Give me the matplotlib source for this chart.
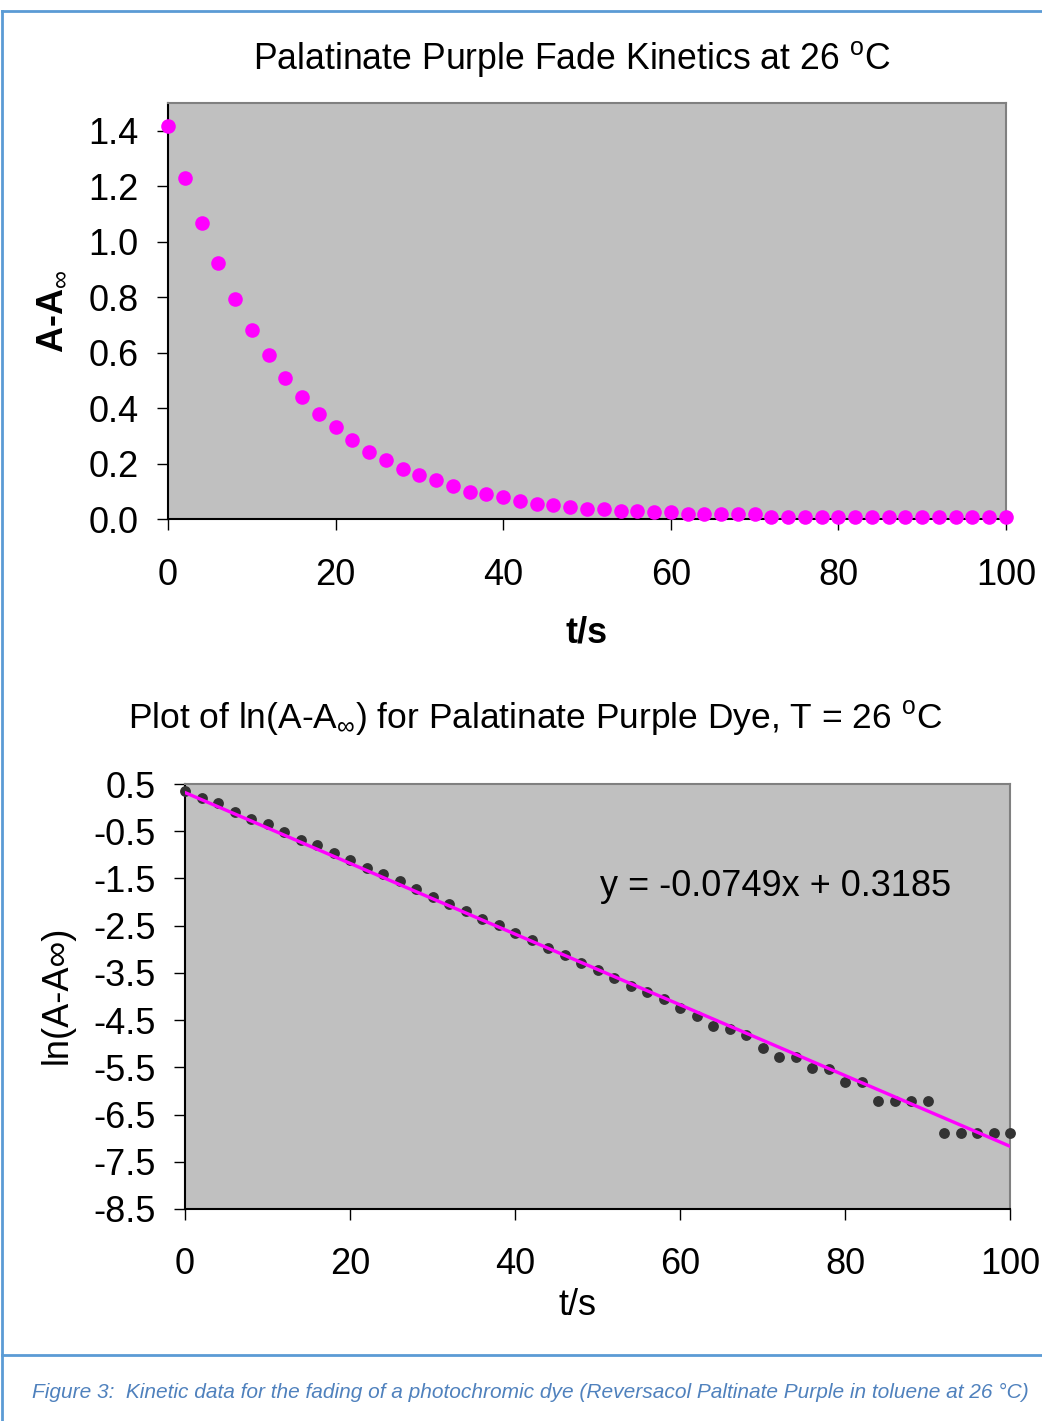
import matplotlib.pyplot as plt
from matplotlib.lines import Line2D

# =========================================================
# FONTS
# =========================================================

plt.rcParams['font.family'] = ['Liberation Sans', 'DejaVu Sans']
plt.rcParams['mathtext.fontset'] = 'custom'
plt.rcParams['mathtext.rm'] = 'Liberation Sans'
plt.rcParams['mathtext.it'] = 'Liberation Sans:italic'
plt.rcParams['mathtext.bf'] = 'Liberation Sans:bold'

# =========================================================
# DATA
# =========================================================

time_s = [0, 2, 4, 6, 8, 10, 12, 14, 16, 18, 20, 22, 24, 26, 28, 30, 32, 34,
          36, 38, 40, 42, 44, 46, 48, 50, 52, 54, 56, 58, 60, 62, 64, 66, 68,
          70, 72, 74, 76, 78, 80, 82, 84, 86, 88, 90, 92, 94, 96, 98, 100]

# absorbance change A - A_inf
delta_abs = [1.417, 1.231, 1.066, 0.923, 0.792, 0.682, 0.592, 0.510, 0.441,
             0.379, 0.331, 0.284, 0.242, 0.214, 0.181, 0.159, 0.139, 0.118,
             0.097, 0.090, 0.078, 0.064, 0.055, 0.049, 0.043, 0.036, 0.036,
             0.030, 0.030, 0.024, 0.024, 0.017, 0.017, 0.017, 0.017, 0.017,
             0.009, 0.009, 0.009, 0.009, 0.009, 0.009, 0.009, 0.009, 0.009,
             0.009, 0.009, 0.009, 0.009, 0.009, 0.009]

# ln(A - A_inf)
ln_delta_abs = [0.358, 0.210, 0.091, -0.087, -0.248, -0.347, -0.517, -0.686,
                -0.799, -0.955, -1.110, -1.286, -1.407, -1.555, -1.725, -1.888,
                -2.049, -2.197, -2.366, -2.487, -2.650, -2.805, -2.968, -3.123,
                -3.286, -3.441, -3.617, -3.771, -3.898, -4.055, -4.252, -4.415,
                -4.621, -4.697, -4.818, -5.100, -5.290, -5.290, -5.523, -5.538,
                -5.820, -5.807, -6.216, -6.216, -6.216, -6.216, -6.888, -6.888,
                -6.888, -6.888, -6.888]

# linear trendline from the chart
fit_slope = -0.0749
fit_intercept = 0.3185
fit_x = [0, 100]

top_yticks = [0.0, 0.2, 0.4, 0.6, 0.8, 1.0, 1.2, 1.4]
bottom_yticks = [0.5, -0.5, -1.5, -2.5, -3.5, -4.5, -5.5, -6.5, -7.5, -8.5]
xticks = [0, 20, 40, 60, 80, 100]

# =========================================================
# STYLE
# =========================================================

W, H = 1042, 1421
PLOT_BG = '#C0C0C0'
MAGENTA = '#FF00FF'
DOT_DARK = '#333333'
FRAME_BLUE = '#5B9BD5'
CAPTION_BLUE = '#4F81BD'
FS = 26


def style_axes(ax, xpad):
    ax.set_facecolor(PLOT_BG)
    ax.spines['left'].set_color('black')
    ax.spines['bottom'].set_color('black')
    ax.spines['top'].set_color('#808080')
    ax.spines['right'].set_color('#808080')
    for s in ax.spines.values():
        s.set_linewidth(1.5)
    ax.tick_params(direction='out', length=8, width=1, labelsize=FS)
    ax.tick_params(axis='y', pad=13)
    ax.tick_params(axis='x', pad=xpad)


fig = plt.figure(figsize=(W / 100, H / 100), dpi=100)

# =========================================================
# TOP PANEL: A - A_inf vs t
# =========================================================

ax1 = fig.add_axes([168 / W, 1 - 519 / H, (1006 - 168) / W, (519 - 103) / H])
style_axes(ax1, 20)
ax1.plot(time_s, delta_abs, 'o', color=MAGENTA, markersize=10.5,
         markeredgewidth=0, clip_on=False, zorder=3)
ax1.set_xlim(0, 100)
ax1.set_ylim(0, 1.5)
ax1.set_xticks(xticks)
ax1.set_yticks(top_yticks)
ax1.set_yticklabels([f"{v:.1f}" for v in top_yticks])
ax1.set_xlabel('t/s', fontsize=FS, fontweight='bold')
ax1.xaxis.set_label_coords(0.5, -0.274)
ax1.xaxis.label.set_va('center')
ax1.set_ylabel(r'A-A$_{\infty}$', fontsize=FS, fontweight='bold')
ax1.yaxis.set_label_coords(-0.138, 0.5)
ax1.yaxis.label.set_va('center')

fig.text(572 / W, 1 - 59 / H, r'Palatinate Purple Fade Kinetics at 26 $^{\rm o}$C',
         fontsize=25.7, ha='center', va='center')

# =========================================================
# BOTTOM PANEL: ln(A - A_inf) vs t
# =========================================================

ax2 = fig.add_axes([185 / W, 1 - 1209 / H, (1010 - 185) / W, (1209 - 784) / H])
style_axes(ax2, 19)
ax2.plot(time_s, ln_delta_abs, 'o', color=DOT_DARK, markersize=7.8,
         markeredgewidth=0, clip_on=False, zorder=3)
fit_y = [fit_slope * x + fit_intercept for x in fit_x]
ax2.plot(fit_x, fit_y, color=MAGENTA, linewidth=2.4, zorder=4)
ax2.set_xlim(0, 100)
ax2.set_ylim(-8.5, 0.5)
ax2.set_xticks(xticks)
ax2.set_yticks(bottom_yticks)
ax2.set_yticklabels([f"{v:.1f}" for v in bottom_yticks])
ax2.set_xlabel('t/s', fontsize=FS)
ax2.xaxis.set_label_coords(0.476, -0.226)
ax2.xaxis.label.set_va('center')
ax2.set_ylabel('ln(A-A\u221e)', fontsize=FS)
ax2.yaxis.set_label_coords(-0.155, 0.504)
ax2.yaxis.label.set_va('center')

ax2.text(0.503, 0.76, f'y = {fit_slope}x + {fit_intercept}', fontsize=FS,
         transform=ax2.transAxes, ha='left', va='center')

fig.text(535 / W, 1 - 718 / H,
         r'Plot of ln(A-A$_{\infty}$) for Palatinate Purple Dye, T = 26 $^{\rm o}$C',
         fontsize=25.5, ha='center', va='center')

# =========================================================
# FRAME AND CAPTION
# =========================================================

frame_top = 1 - 11 / H
frame_sep = 1 - 1355 / H
frame_left = 1.5 / W
for xs, ys in [([frame_left, frame_left], [0, frame_top]),
               ([frame_left, 1], [frame_top, frame_top]),
               ([frame_left, 1], [frame_sep, frame_sep])]:
    fig.add_artist(Line2D(xs, ys, transform=fig.transFigure,
                          color=FRAME_BLUE, linewidth=2))

fig.text(32 / W, 1 - 1392 / H,
         'Figure 3:  Kinetic data for the fading of a photochromic dye '
         '(Reversacol Paltinate Purple in toluene at 26 \u00b0C)',
         fontsize=15.0, style='italic', color=CAPTION_BLUE, ha='left', va='center')

fig.savefig('out.png', dpi=100)
